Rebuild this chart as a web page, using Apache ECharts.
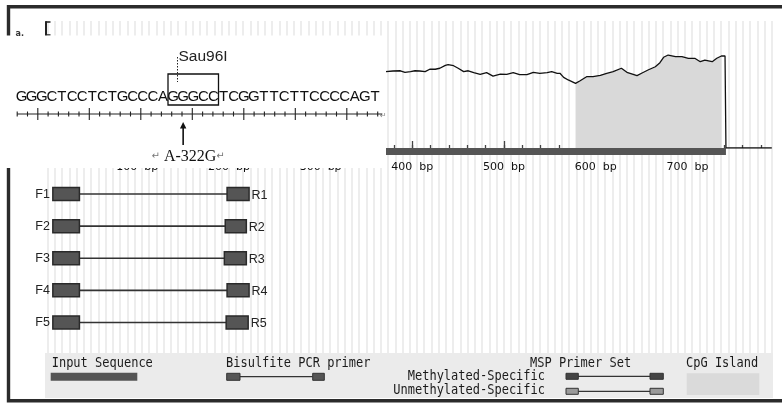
<!DOCTYPE html>
<html>
<head>
<meta charset="utf-8">
<script src="https://cdn.jsdelivr.net/npm/echarts@6/dist/echarts.min.js"></script>
<style>
    html, body { margin: 0; padding: 0; background: #fff; }
    #chart { width: 782px; height: 412px; }
</style>
</head>
<body>
<div id="chart"></div>
<script>
// sequence / CpG plot values (bp positions, GC %)
var seqLength = 742;
var axisMax = 792;
var islandStart = 578;
var islandEnd = 737;
var cpgPos = [371, 379, 387, 392, 398, 403, 408, 414, 419, 425, 430, 436, 439, 445, 450, 456, 461, 467, 474, 481,
    488, 496, 503, 510, 517, 525, 532, 539, 547, 552, 558, 561, 565, 570, 578, 583, 590, 597, 605, 612,
    619, 628, 634, 640, 645, 650, 657, 665, 670, 674, 679, 687, 694, 701, 708, 714, 719, 727, 732, 737,
    741, 742, 792];
var cpgVal = [60.6, 61.1, 61.3, 60.1, 60.6, 61.3, 61.1, 60.6, 62.5, 62.5, 63.3, 65.6, 66.1, 65.3, 63.3, 60.6, 61.3, 59.8, 58.5, 59.8,
    57.1, 58.7, 58.5, 59.8, 58.2, 58.2, 60.1, 59.3, 59.8, 60.6, 59.3, 59.3, 56.1, 54.0, 51.3, 53.4, 56.6, 56.6, 57.7, 59.3,
    60.6, 63.3, 60.1, 58.7, 57.4, 59.3, 61.9, 64.5, 67.7, 72.0, 73.8, 72.5, 72.5, 71.2, 71.2, 68.5, 69.8, 68.5, 71.2, 73.0,
    73.0, 0, 0];
var labelTicks = [100, 200, 300, 400, 500, 600, 700];
var majorTicks = [0, 100, 200, 300, 400, 500, 600, 700];

// primer pairs
var primerNames = ['1', '2', '3', '4', '5'];
var fwdStart = [8, 8, 8, 8, 8];
var fwdEnd = [37, 37, 37, 37, 37];
var revStart = [198, 196, 195, 198, 197];
var revEnd = [222, 219, 219, 222, 221];

// inset sequence
var insetSeq = 'GGGCTCCTCTGCCCAGGGCCTCGGTTCTTCCCCAGT';
var siteStart = 15;
var siteEnd = 20;
var snpIndex = 16;
var siteName = 'Sau96I';
var snpName = 'A-322G';

var minorTicks = [];
for (var t = 0; t < axisMax; t += 20) minorTicks.push(t);

var chart = echarts.init(document.getElementById('chart'));

var cpgData = cpgPos.map(function (p, i) { return [p, cpgVal[i]]; });
var islandData = cpgData.filter(function (d) { return d[0] >= islandStart && d[0] <= islandEnd; });
var primerData = primerNames.map(function (n, i) { return [i, fwdStart[i], fwdEnd[i], revStart[i], revEnd[i]]; });
var letterData = insetSeq.split('').map(function (c, i) { return [i, 0]; });

var mono = '"DejaVu Sans Mono", monospace';

var legendText = function (text, x, y, align) {
    return {
        type: 'text', z: 11, x: x, y: y, scaleY: 1.13,
        style: { text: text, x: 0, y: 0, align: align || 'left', verticalAlign: 'middle', font: '12px ' + mono, fill: '#1a1a1a' }
    };
};

var option = {
    animation: false,
    backgroundColor: '#fff',
    grid: [
        { left: 45.5, top: 22, width: 726.3, height: 126 },       // cpg plot
        { left: 47.76, top: 21, width: 724, height: 332 },        // stripes
        { left: 45.5, top: 178, width: 726.3, height: 160.5 },    // primers
        { left: 16.5, top: 40, width: 363.6, height: 74 },        // inset letters
        { left: 17.2, top: 40, width: 360.5, height: 74 }         // inset ruler
    ],
    xAxis: [
        {
            gridIndex: 0, type: 'value', position: 'bottom', min: 0, max: axisMax,
            axisLine: { show: false },
            axisTick: { show: true, inside: true, length: 3, customValues: minorTicks, lineStyle: { color: '#444', width: 1.3 } },
            axisLabel: { show: false },
            splitLine: { show: false }
        },
        {
            gridIndex: 0, type: 'value', position: 'bottom', min: 0, max: axisMax,
            axisLine: { show: false },
            axisTick: { show: true, inside: true, length: 7, customValues: majorTicks, lineStyle: { color: '#444', width: 1.3 } },
            axisLabel: {
                show: true, customValues: labelTicks, margin: 14,
                fontSize: 11, fontFamily: 'DejaVu Sans', color: '#111',
                formatter: function (v) { return v + '  bp'; }
            },
            splitLine: { show: false }
        },
        {
            gridIndex: 1, type: 'value', min: 0, max: 100, interval: 1,
            axisLine: { show: false }, axisTick: { show: false }, axisLabel: { show: false },
            splitLine: { show: true, lineStyle: { color: '#e7e7e7', width: 1.5 } }
        },
        { gridIndex: 2, type: 'value', min: 0, max: axisMax, show: false },
        { gridIndex: 3, type: 'value', min: 0, max: insetSeq.length, show: false },
        { gridIndex: 4, type: 'value', min: 0, max: insetSeq.length - 1, show: false }
    ],
    yAxis: [
        {
            gridIndex: 0, type: 'value', min: 0, max: 100, interval: 10,
            axisLine: { show: true, lineStyle: { color: '#222', width: 2 } },
            axisTick: { show: true, inside: true, length: 5, lineStyle: { color: '#222', width: 1.5 } },
            axisLabel: { show: false },
            splitLine: { show: false }
        },
        { gridIndex: 1, type: 'value', min: 0, max: 1, show: false, splitLine: { show: false } },
        { gridIndex: 2, type: 'category', data: primerNames, inverse: true, show: false },
        { gridIndex: 3, type: 'value', min: 0, max: 1, show: false },
        { gridIndex: 4, type: 'value', min: 0, max: 1, show: false }
    ],
    series: [
        {
            name: 'CpG island',
            type: 'line',
            xAxisIndex: 0, yAxisIndex: 0,
            data: islandData,
            showSymbol: false,
            lineStyle: { width: 0 },
            areaStyle: { color: '#d9d9d9', opacity: 1 },
            z: 3
        },
        {
            name: 'GC',
            type: 'line',
            xAxisIndex: 0, yAxisIndex: 0,
            data: cpgData,
            showSymbol: false,
            lineStyle: { color: '#111', width: 1.3 },
            z: 5
        },
        {
            name: 'Input sequence',
            type: 'custom',
            xAxisIndex: 0, yAxisIndex: 0,
            data: [[0, seqLength]],
            z: 4,
            renderItem: function (params, api) {
                var p0 = api.coord([api.value(0), 0]);
                var p1 = api.coord([api.value(1), 0]);
                return {
                    type: 'rect',
                    shape: { x: p0[0], y: p0[1], width: p1[0] - p0[0], height: 7 },
                    style: { fill: '#555' }
                };
            }
        },
        {
            name: 'Primers',
            type: 'custom',
            xAxisIndex: 3, yAxisIndex: 2,
            data: primerData,
            encode: { x: [1, 2, 3, 4], y: 0 },
            z: 6,
            renderItem: function (params, api) {
                var row = api.value(0);
                var yc = api.coord([0, row])[1];
                var f0 = api.coord([api.value(1), row])[0];
                var f1 = api.coord([api.value(2), row])[0];
                var r0 = api.coord([api.value(3), row])[0];
                var r1 = api.coord([api.value(4), row])[0];
                var h = 13;
                var name = primerNames[row];
                var lbl = '12.5px "Liberation Sans", Arial, sans-serif';
                return {
                    type: 'group',
                    children: [
                        { type: 'line', shape: { x1: f1, y1: yc, x2: r0, y2: yc }, style: { stroke: '#333', lineWidth: 1.6 } },
                        { type: 'rect', shape: { x: f0, y: yc - h / 2, width: f1 - f0, height: h }, style: { fill: '#555', stroke: '#2a2a2a', lineWidth: 1.5 } },
                        { type: 'rect', shape: { x: r0, y: yc - h / 2, width: r1 - r0, height: h }, style: { fill: '#555', stroke: '#2a2a2a', lineWidth: 1.5 } },
                        { type: 'text', style: { text: 'F' + name, x: f0 - 3, y: yc + 0.5, align: 'right', verticalAlign: 'middle', font: lbl, fill: '#222' } },
                        { type: 'text', style: { text: 'R' + name, x: r1 + 2.5, y: yc + 1.5, align: 'left', verticalAlign: 'middle', font: lbl, fill: '#222' } }
                    ]
                };
            }
        },
        {
            name: 'Inset letters',
            type: 'custom',
            xAxisIndex: 4, yAxisIndex: 3,
            data: letterData,
            z: 60,
            renderItem: function (params, api) {
                var i = api.value(0);
                var mid = api.coord([i + 0.5, 0]);
                return {
                    type: 'text',
                    style: {
                        text: insetSeq.charAt(i), x: mid[0], y: mid[1] - 16.7,
                        align: 'center', verticalAlign: 'middle',
                        font: '15px "Liberation Sans", Arial, sans-serif', fill: '#111'
                    }
                };
            }
        },
        {
            name: 'Inset ruler',
            type: 'custom',
            xAxisIndex: 5, yAxisIndex: 4,
            data: letterData,
            z: 60,
            renderItem: function (params, api) {
                var k = api.value(0);
                var p = api.coord([k, 0]);
                var len = (k % 5 === 2) ? 6 : 2.5;
                var kids = [
                    { type: 'line', shape: { x1: p[0], y1: p[1] - len, x2: p[0], y2: p[1] + len }, style: { stroke: '#222', lineWidth: 1.1 } }
                ];
                if (k === 0) {
                    var end = api.coord([insetSeq.length - 0.55, 0]);
                    kids.push({ type: 'line', shape: { x1: p[0], y1: p[1], x2: end[0], y2: p[1] }, style: { stroke: '#222', lineWidth: 1.2 } });
                }
                return { type: 'group', children: kids };
            }
        },
        {
            name: 'Site',
            type: 'custom',
            xAxisIndex: 4, yAxisIndex: 3,
            data: [[siteStart, siteEnd, snpIndex]],
            z: 61,
            renderItem: function (params, api) {
                var a = api.coord([api.value(0), 0]);
                var b = api.coord([api.value(1), 0]);
                var s = api.coord([api.value(2) + 0.5, 0]);
                var y0 = a[1];
                return {
                    type: 'group',
                    children: [
                        { type: 'rect', shape: { x: a[0], y: y0 - 40, width: b[0] - a[0], height: 31 }, style: { fill: 'none', stroke: '#111', lineWidth: 1.3 } },
                        { type: 'line', shape: { x1: a[0] + 9.5, y1: y0 - 57, x2: a[0] + 9.5, y2: y0 - 32 }, style: { stroke: '#222', lineWidth: 1, lineDash: [1.5, 1.5] } },
                        { type: 'text', style: { text: siteName, x: a[0] + 10.5, y: y0 - 57, align: 'left', verticalAlign: 'middle', font: '15.5px "Liberation Sans", Arial, sans-serif', fill: '#222' } },
                        { type: 'line', shape: { x1: s[0], y1: y0 + 31, x2: s[0], y2: y0 + 12 }, style: { stroke: '#111', lineWidth: 1.6 } },
                        { type: 'polygon', shape: { points: [[s[0], y0 + 8], [s[0] - 3.2, y0 + 14.5], [s[0] + 3.2, y0 + 14.5]] }, style: { fill: '#111' } },
                        {
                            type: 'text',
                            style: {
                                text: '{m|↵} ' + snpName + '{m|↵}', x: s[0] + 5, y: y0 + 42.5,
                                align: 'center', verticalAlign: 'middle',
                                font: '16px "Liberation Serif", "Times New Roman", serif', fill: '#111',
                                rich: { m: { fontFamily: 'DejaVu Sans', fontSize: 10, fill: '#777', color: '#777' } }
                            }
                        }
                    ]
                };
            }
        }
    ],
    graphic: [
        { type: 'rect', z: 40, shape: { x: 8.5, y: 6.8, width: 800, height: 394 }, style: { fill: 'none', stroke: '#2b2b2b', lineWidth: 3.4 } },
        { type: 'rect', z: 50, shape: { x: 0, y: 35.5, width: 386, height: 132.5 }, style: { fill: '#fff' } },
        { type: 'text', z: 55, style: { text: 'a.', x: 15.5, y: 34, verticalAlign: 'middle', font: 'bold 8px "DejaVu Sans"', fill: '#333' } },
        { type: 'text', z: 55, style: { text: '↵', x: 380, y: 116, verticalAlign: 'middle', font: '8px "DejaVu Sans"', fill: '#888' } },

        // legend
        { type: 'rect', z: 10, shape: { x: 45, y: 353, width: 728, height: 45 }, style: { fill: '#ebebeb' } },
        legendText('Input Sequence', 51.7, 363.5),
        { type: 'rect', z: 11, shape: { x: 50.7, y: 372.7, width: 86.6, height: 8 }, style: { fill: '#555' } },

        legendText('Bisulfite PCR primer', 226, 363.5),
        { type: 'line', z: 11, shape: { x1: 240, y1: 376.7, x2: 312.7, y2: 376.7 }, style: { stroke: '#333', lineWidth: 1.3 } },
        { type: 'rect', z: 12, shape: { x: 226.7, y: 373.3, width: 13.3, height: 7 }, style: { fill: '#555', stroke: '#333', lineWidth: 1 } },
        { type: 'rect', z: 12, shape: { x: 312.7, y: 373.3, width: 11.6, height: 7 }, style: { fill: '#555', stroke: '#333', lineWidth: 1 } },

        legendText('MSP Primer Set', 530, 363.5),
        legendText('Methylated-Specific', 545, 376.5, 'right'),
        legendText('Unmethylated-Specific', 545, 390.5, 'right'),
        { type: 'line', z: 11, shape: { x1: 578, y1: 376.3, x2: 650, y2: 376.3 }, style: { stroke: '#333', lineWidth: 1.3 } },
        { type: 'rect', z: 12, shape: { x: 566, y: 373.3, width: 12.3, height: 6 }, style: { fill: '#444', stroke: '#333', lineWidth: 1 } },
        { type: 'rect', z: 12, shape: { x: 650, y: 373.3, width: 13.3, height: 6 }, style: { fill: '#444', stroke: '#333', lineWidth: 1 } },
        { type: 'line', z: 11, shape: { x1: 578, y1: 391.3, x2: 650, y2: 391.3 }, style: { stroke: '#333', lineWidth: 1.3 } },
        { type: 'rect', z: 12, shape: { x: 566, y: 388.3, width: 12.3, height: 6 }, style: { fill: '#9a9a9a', stroke: '#333', lineWidth: 1 } },
        { type: 'rect', z: 12, shape: { x: 650, y: 388.3, width: 13.3, height: 6 }, style: { fill: '#9a9a9a', stroke: '#333', lineWidth: 1 } },

        legendText('CpG Island', 686, 363.5),
        { type: 'rect', z: 11, shape: { x: 686.7, y: 373.3, width: 72.6, height: 21.7 }, style: { fill: '#dadada' } }
    ]
};

chart.setOption(option);
window.addEventListener('resize', chart.resize);
</script>
</body>
</html>
